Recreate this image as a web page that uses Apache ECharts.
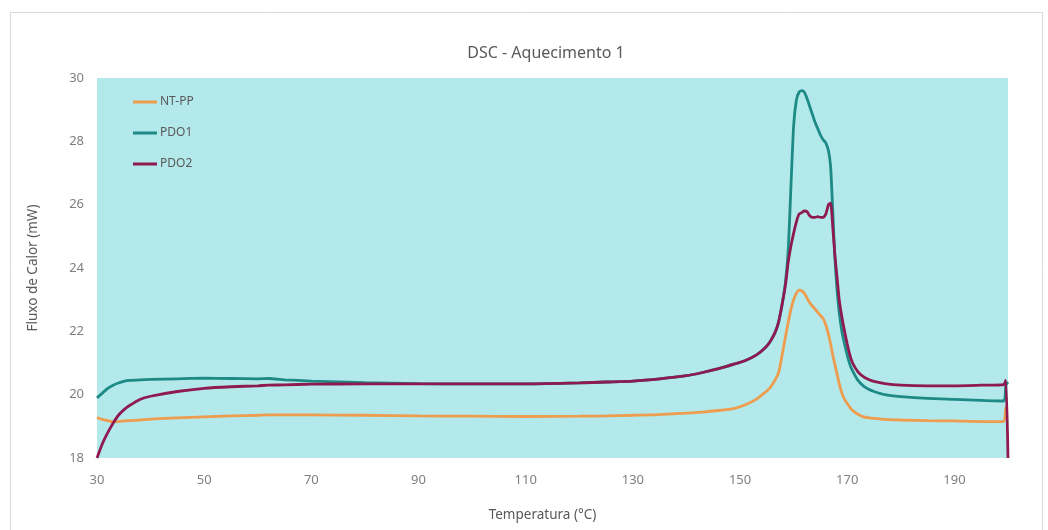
<!DOCTYPE html>
<html>
<head>
<meta charset="utf-8">
<script src="https://cdn.jsdelivr.net/npm/echarts@6/dist/echarts.min.js"></script>
<style>
html,body{margin:0;padding:0;background:#fff;}
#c{width:1048px;height:530px;}
</style>
</head>
<body>
<div id="c"></div>
<script>
var temps = [30,31,32,33,34,35,36,38,40,45,50,55,60,62,65,70,80,90,100,110,120,125,130,135,140,143,146,149,151,153,154.5,155.5,156.5,157.2,157.9,158.5,159,159.5,160,160.5,161,161.5,162,162.5,163,163.5,164,164.5,165,165.5,166,166.5,166.9,167.3,167.7,168.1,168.5,169,169.5,170,170.5,171,172,173,174,175,177,180,185,190,195,199.2,199.6,200];

var ntpp = [19.28,19.22,19.18,19.15,19.15,19.17,19.18,19.2,19.23,19.27,19.3,19.33,19.35,19.36,19.36,19.36,19.35,19.33,19.32,19.31,19.32,19.33,19.35,19.37,19.42,19.45,19.5,19.57,19.68,19.85,20.05,20.2,20.45,20.7,21.3,21.85,22.3,22.7,23.0,23.2,23.3,23.28,23.2,23.05,22.9,22.8,22.7,22.6,22.5,22.4,22.2,21.9,21.6,21.25,20.95,20.65,20.35,20.05,19.85,19.72,19.6,19.5,19.38,19.3,19.27,19.25,19.22,19.2,19.18,19.17,19.15,19.15,19.6,19.6];

var pdo1 = [19.9,20.05,20.2,20.3,20.37,20.42,20.45,20.47,20.48,20.5,20.52,20.51,20.5,20.51,20.47,20.43,20.38,20.35,20.34,20.34,20.37,20.4,20.43,20.5,20.6,20.7,20.82,20.97,21.08,21.25,21.45,21.65,21.95,22.3,22.9,23.6,24.6,26.6,28.5,29.3,29.55,29.6,29.55,29.35,29.1,28.85,28.6,28.4,28.2,28.05,27.95,27.7,27.2,25.8,24.3,23.3,22.6,22.0,21.6,21.25,20.95,20.75,20.45,20.28,20.17,20.1,20.0,19.94,19.88,19.85,19.82,19.8,20.3,20.4];

var pdo2 = [18.0,18.45,18.8,19.1,19.35,19.52,19.65,19.85,19.95,20.1,20.2,20.25,20.28,20.3,20.31,20.33,20.34,20.34,20.34,20.34,20.37,20.4,20.43,20.5,20.6,20.7,20.82,20.97,21.08,21.25,21.45,21.65,21.95,22.3,22.9,23.5,24.2,24.7,25.1,25.45,25.7,25.75,25.8,25.78,25.65,25.6,25.6,25.62,25.6,25.6,25.7,26.0,26.05,25.3,24.4,23.7,23.0,22.45,22.0,21.6,21.25,21.0,20.72,20.57,20.48,20.42,20.35,20.3,20.28,20.28,20.3,20.32,20.45,18.0];

var seriesNames = ['NT-PP','PDO1','PDO2'];
var seriesColors = ['#EE9C4E','#1D8A86','#8E1A50'];

function pairs(vals){ return temps.map(function(t,i){ return [t, vals[i]]; }); }
var allValues = [ntpp, pdo1, pdo2];

var chart = echarts.init(document.getElementById('c'), null, {renderer:'canvas'});
var font = 'Noto Sans';
chart.setOption({
  backgroundColor:'#ffffff',
  animation:false,
  title:{
    text:'DSC - Aquecimento 1',
    left:541, top:40, textAlign:'center',
    textStyle:{fontFamily:font, fontSize:16, fontWeight:'normal', color:'#595959'}
  },
  graphic:[{
    type:'rect', left:8, top:10, z:-10,
    shape:{width:1032, height:518},
    style:{fill:'none', stroke:'#d9d9d9', lineWidth:1}
  }],
  legend:{
    orient:'vertical', left:128, top:91,
    itemWidth:24, itemHeight:3, itemGap:19,
    icon:'rect',
    textStyle:{fontFamily:font, fontSize:12, color:'#595959', padding:[0,0,0,-2]},
    data:seriesNames
  },
  grid:{
    left:97, right:40, top:78, bottom:72,
    show:true, backgroundColor:'#B3E9EA', borderWidth:0
  },
  xAxis:{
    type:'value', min:30, max:200, interval:20,
    name:'Temperatura (°C)', nameLocation:'middle', nameGap:50,
    nameTextStyle:{fontFamily:font, fontSize:13.5, color:'#595959', padding:[0,20,0,0]},
    axisLine:{show:false}, axisTick:{show:false}, splitLine:{show:false},
    axisLabel:{fontFamily:font, fontSize:13, color:'#7f7f7f', margin:16, showMaxLabel:false}
  },
  yAxis:{
    type:'value', min:18, max:30, interval:2,
    name:'Fluxo de Calor (mW)', nameLocation:'middle', nameGap:57, nameRotate:90,
    nameTextStyle:{fontFamily:font, fontSize:13.5, color:'#595959'},
    axisLine:{show:false}, axisTick:{show:false}, splitLine:{show:false},
    axisLabel:{fontFamily:font, fontSize:13, color:'#7f7f7f', margin:13}
  },
  series: seriesNames.map(function(n,i){
    return {
      name:n, type:'line', data:pairs(allValues[i]),
      showSymbol:false, smooth:0.2,
      lineStyle:{width:2.8, color:seriesColors[i]},
      itemStyle:{color:seriesColors[i]},
      z: 2+i
    };
  })
});
</script>
</body>
</html>
